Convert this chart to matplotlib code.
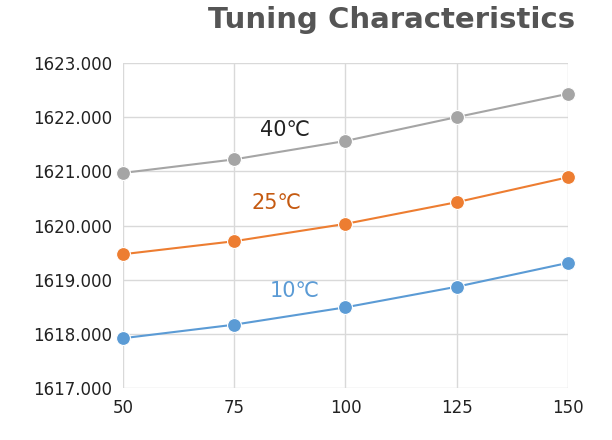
import matplotlib.pyplot as plt

current = [50, 75, 100, 125, 150]
wl_40 = [1620.97, 1621.22, 1621.56, 1622.00, 1622.43]
wl_25 = [1619.47, 1619.71, 1620.03, 1620.43, 1620.89]
wl_10 = [1617.92, 1618.17, 1618.49, 1618.87, 1619.31]

series = [
    (wl_40, "#a5a5a5", "40\u2103", "#222222", 86.5, 1621.76),
    (wl_25, "#ed7d31", "25\u2103", "#c55a11", 84.5, 1620.42),
    (wl_10, "#5b9bd5", "10\u2103", "#5b9bd5", 88.5, 1618.80),
]

fig = plt.figure(figsize=(6.12, 4.4), dpi=100)
ax = fig.add_axes([0.201, 0.118, 0.727, 0.739])

for vals, color, label, tcolor, lx, ly in series:
    ax.plot(current, vals, color=color, lw=1.5, marker="o", markersize=10,
            markeredgecolor="white", markeredgewidth=0.8, zorder=3, clip_on=False)
    ax.text(lx, ly, label, color=tcolor, fontsize=15, ha="center", va="center")

ax.set_xlim(50, 150)
ax.set_ylim(1617, 1623)
ax.set_xticks(current)
ax.set_yticks(range(1617, 1624))
ax.set_yticklabels([f"{v:.3f}" for v in range(1617, 1624)])
ax.grid(True, color="#d9d9d9", lw=1)
ax.set_axisbelow(True)
for s in ax.spines.values():
    s.set_visible(False)
ax.tick_params(length=0, labelsize=12, colors="#222222", pad=8)

fig.text(0.94, 0.955, "Tuning Characteristics", ha="right", va="center",
         fontsize=21, fontweight="bold", color="#555555")

fig.savefig("out.png", dpi=100)
